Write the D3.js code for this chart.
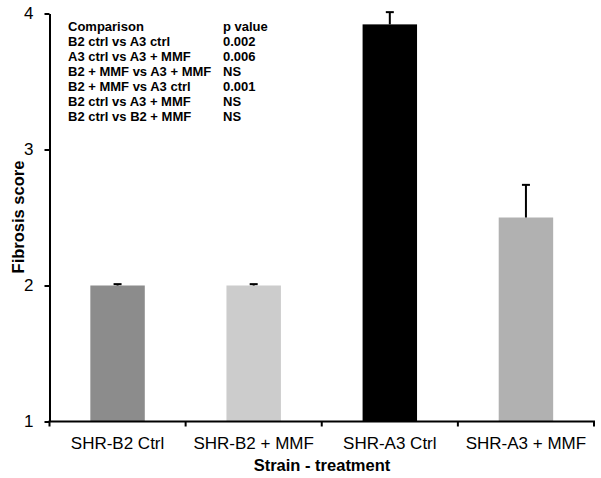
<!DOCTYPE html>
<html><head><meta charset="utf-8">
<script src="https://cdn.jsdelivr.net/npm/d3@7"></script>
<style>body{margin:0;background:#fff}svg{display:block;font-family:"Liberation Sans",Arial,sans-serif}</style>
</head><body>
<script>
const categories = ["SHR-B2 Ctrl", "SHR-B2 + MMF", "SHR-A3 Ctrl", "SHR-A3 + MMF"];
const means = [2.0, 2.0, 3.92, 2.5];
const errors = [0.01, 0.01, 0.09, 0.24];
const barColors = ["#8c8c8c", "#cccccc", "#000000", "#b1b1b1"];
const yTicks = [1, 2, 3, 4];
const comparisons = ["Comparison", "B2 ctrl vs A3 ctrl", "A3 ctrl vs A3 + MMF", "B2 + MMF vs A3 + MMF", "B2 + MMF vs A3 ctrl", "B2 ctrl vs A3 + MMF", "B2 ctrl vs B2 + MMF"];
const pValues = ["p value", "0.002", "0.006", "NS", "0.001", "NS", "NS"];

const W = 601, H = 478;
const svg = d3.select("body").append("svg").attr("width", W).attr("height", H);
const x = d3.scaleBand().domain(categories).range([49.5, 594]).paddingInner(0).paddingOuter(0);
const y = d3.scaleLinear().domain([1, 4]).range([421.5, 13.5]);
const barW = x.bandwidth() * 0.4;

// bars
svg.selectAll("rect.bar").data(categories).join("rect")
  .attr("class", "bar")
  .attr("x", d => x(d) + x.bandwidth() / 2 - barW / 2)
  .attr("width", barW)
  .attr("y", (d, i) => y(means[i]))
  .attr("height", (d, i) => y(1) - y(means[i]))
  .attr("fill", (d, i) => barColors[i]);

// error bars (upper only)
const eg = svg.append("g").attr("stroke", "#000").attr("stroke-width", 2);
categories.forEach((c, i) => {
  const cx = x(c) + x.bandwidth() / 2;
  eg.append("line").attr("x1", cx).attr("x2", cx).attr("y1", y(means[i])).attr("y2", y(means[i] + errors[i]));
  eg.append("line").attr("x1", cx - 4).attr("x2", cx + 4).attr("y1", y(means[i] + errors[i])).attr("y2", y(means[i] + errors[i]));
});

// y axis
const yAxis = svg.append("g").attr("transform", "translate(49.5,0)")
  .call(d3.axisLeft(y).tickValues(yTicks).tickFormat(d3.format("d")).tickSize(5).tickSizeOuter(0).tickPadding(11));
yAxis.select(".domain").attr("stroke-width", 2);
yAxis.selectAll(".tick line").attr("stroke-width", 2);
yAxis.selectAll(".tick text").attr("font-size", 17).attr("fill", "#000").attr("font-family", "Liberation Sans, Arial, sans-serif");

// x axis: ticks at band boundaries
const xg = svg.append("g");
xg.append("line").attr("x1", 48.5).attr("x2", 595).attr("y1", y(1)).attr("y2", y(1)).attr("stroke", "#000").attr("stroke-width", 2);
const edges = categories.map(c => x(c)).concat([x.range()[1]]);
xg.selectAll("line.tk").data(edges).join("line").attr("class", "tk")
  .attr("x1", d => d).attr("x2", d => d).attr("y1", y(1)).attr("y2", y(1) + 5)
  .attr("stroke", "#000").attr("stroke-width", 2);
xg.selectAll("text").data(categories).join("text")
  .attr("x", d => x(d) + x.bandwidth() / 2).attr("y", 449)
  .attr("text-anchor", "middle").attr("font-size", 17).attr("fill", "#000").text(d => d);

// axis titles
svg.append("text").attr("x", 322).attr("y", 471).attr("text-anchor", "middle")
  .attr("font-size", 16.5).attr("font-weight", "bold").text("Strain - treatment");
svg.append("text").attr("transform", "translate(24,217) rotate(-90)").attr("text-anchor", "middle")
  .attr("font-size", 16.5).attr("font-weight", "bold").text("Fibrosis score");

// comparison table
const tg = svg.append("g").attr("font-size", 13).attr("font-weight", "bold");
comparisons.forEach((c, i) => {
  tg.append("text").attr("x", 68).attr("y", 31 + i * 15).text(c);
  tg.append("text").attr("x", 223).attr("y", 31 + i * 15).text(pValues[i]);
});
</script>
</body></html>
